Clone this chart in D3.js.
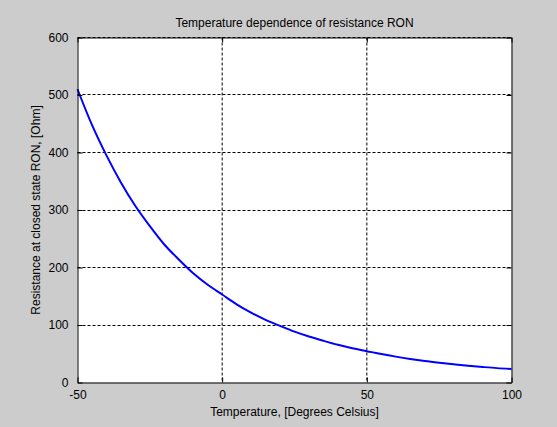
<!DOCTYPE html>
<html lang="en">
  <head>
    <meta charset="UTF-8" />
    <title>Temperature dependence of resistance RON</title>
    <style>
      html,
      body {
        margin: 0;
        padding: 0;
        background: #cccccc;
      }
      svg {
        display: block;
        font-family: 'Liberation Sans', Arial, sans-serif;
      }
      text {
        font-size: 12px;
        fill: #000;
      }
    </style>
  </head>
  <body>
    <script src="https://cdn.jsdelivr.net/npm/d3@7/dist/d3.min.js"></script>
    <svg width="557" height="427"></svg>
    <script>
      // values, every 5 degrees
      const temperature = [
        -50, -45, -40, -35, -30, -25, -20, -15, -10, -5, 0, 5, 10, 15, 20, 25,
        30, 35, 40, 45, 50, 55, 60, 65, 70, 75, 80, 85, 90, 95, 100,
      ];
      const resistance = [
        510, 448, 395, 348, 307, 272, 240, 214, 190, 170, 153, 136, 121.5,
        109, 98.5, 88.5, 80, 72.5, 65.5, 59.5, 54.5, 49.5, 45, 41, 37.5, 34.5,
        31.8, 29.2, 27, 25, 23.5,
      ];
      const xTicks = [-50, 0, 50, 100];
      const yTicks = [0, 100, 200, 300, 400, 500, 600];

      const svg = d3.select('svg');
      const plotLeft = 77.5,
        plotRight = 511.5,
        plotTop = 37.5,
        plotBottom = 382.5;

      const x = d3.scaleLinear().domain([-50, 100]).range([plotLeft, plotRight]);
      const y = d3.scaleLinear().domain([0, 600]).range([plotBottom, plotTop]);

      // axes background
      svg
        .append('rect')
        .attr('x', plotLeft)
        .attr('y', plotTop)
        .attr('width', plotRight - plotLeft)
        .attr('height', plotBottom - plotTop)
        .attr('fill', '#fff');

      // grid
      const grid = svg
        .append('g')
        .attr('stroke', '#000')
        .attr('stroke-width', 1)
        .attr('stroke-dasharray', '3,2');
      grid
        .selectAll('.gx')
        .data(xTicks.slice(1, -1))
        .enter()
        .append('line')
        .attr('x1', (d) => x(d))
        .attr('x2', (d) => x(d))
        .attr('y1', plotTop)
        .attr('y2', plotBottom);
      grid
        .selectAll('.gy')
        .data(yTicks.slice(1))
        .enter()
        .append('line')
        .attr('y1', (d) => Math.round(y(d) - 0.5) + 0.5)
        .attr('y2', (d) => Math.round(y(d) - 0.5) + 0.5)
        .attr('x1', plotLeft)
        .attr('x2', plotRight);

      // curve
      const line = d3
        .line()
        .x((d, i) => x(temperature[i]))
        .y((d) => y(d))
        .curve(d3.curveMonotoneX);
      svg
        .append('path')
        .datum(resistance)
        .attr('fill', 'none')
        .attr('stroke', '#0000ff')
        .attr('stroke-width', 2)
        .attr('d', line);

      // axes with inward ticks, plain hyphen for negatives
      const fmt = (d) => String(d);
      const xAxis = svg
        .append('g')
        .attr('transform', `translate(0,${plotBottom})`)
        .call(d3.axisBottom(x).tickValues(xTicks).tickFormat(fmt).tickSizeInner(-5).tickSizeOuter(0).tickPadding(10));
      const yAxis = svg
        .append('g')
        .attr('transform', `translate(${plotLeft},0)`)
        .call(d3.axisLeft(y).tickValues(yTicks).tickFormat(fmt).tickSizeInner(-5).tickSizeOuter(0).tickPadding(9));
      const xTop = svg
        .append('g')
        .attr('transform', `translate(0,${plotTop})`)
        .call(d3.axisTop(x).tickValues(xTicks).tickSizeInner(-5).tickSizeOuter(0).tickFormat(''));
      const yRight = svg
        .append('g')
        .attr('transform', `translate(${plotRight},0)`)
        .call(d3.axisRight(y).tickValues(yTicks).tickSizeInner(-5).tickSizeOuter(0).tickFormat(''));

      [xAxis, yAxis, xTop, yRight].forEach((a) => {
        a.selectAll('path').attr('stroke', '#000');
        a.selectAll('line').attr('stroke', '#000');
        a.selectAll('text')
          .attr('font-size', '12px')
          .attr('font-family', "'Liberation Sans', Arial, sans-serif")
          .attr('fill', '#000');
      });
      xAxis.selectAll('text').attr('dy', '0.71em').attr('y', 8);

      // title and labels
      svg
        .append('text')
        .attr('x', (plotLeft + plotRight) / 2)
        .attr('y', 27)
        .attr('text-anchor', 'middle')
        .text('Temperature dependence of resistance RON');
      svg
        .append('text')
        .attr('x', (plotLeft + plotRight) / 2)
        .attr('y', 416)
        .attr('text-anchor', 'middle')
        .text('Temperature, [Degrees Celsius]');
      svg
        .append('text')
        .attr('transform', `translate(40,${(plotTop + plotBottom) / 2}) rotate(-90)`)
        .attr('text-anchor', 'middle')
        .text('Resistance at closed state RON, [Ohm]');
    </script>
  </body>
</html>
